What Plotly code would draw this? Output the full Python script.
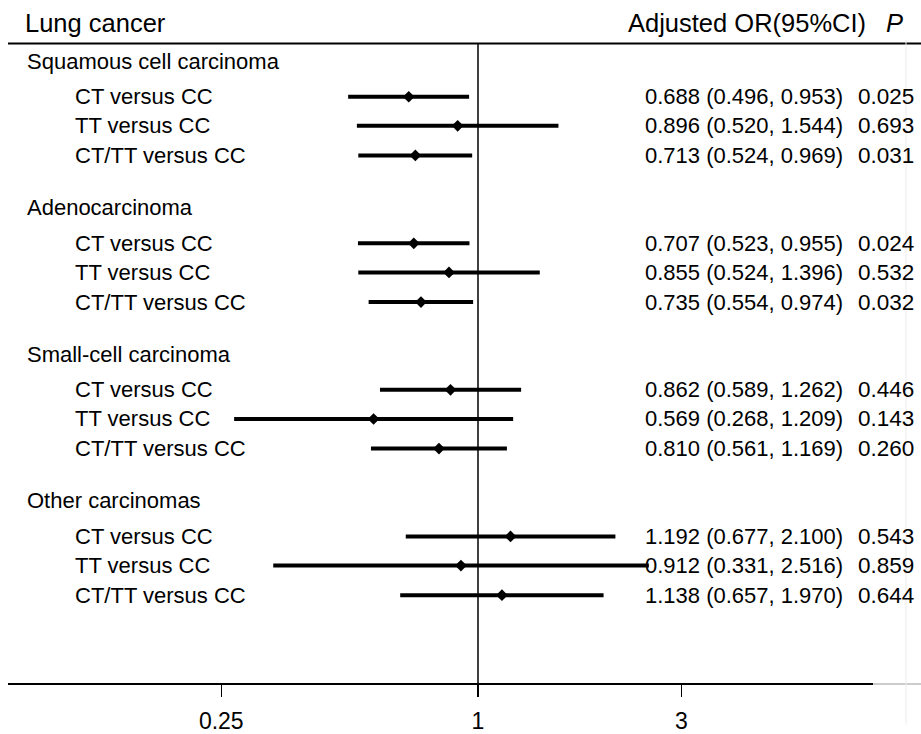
import math
import plotly.graph_objects as go

# ---------------- data ----------------
title_left = "Lung cancer"
title_right = "Adjusted OR(95%CI)"
title_p = "P"
groups = ["Squamous cell carcinoma", "Adenocarcinoma", "Small-cell carcinoma", "Other carcinomas"]
comparisons = ["CT versus CC", "TT versus CC", "CT/TT versus CC"]
or_vals = [0.688, 0.896, 0.713, 0.707, 0.855, 0.735, 0.862, 0.569, 0.810, 1.192, 0.912, 1.138]
ci_low = [0.496, 0.520, 0.524, 0.523, 0.524, 0.554, 0.589, 0.268, 0.561, 0.677, 0.331, 0.657]
ci_high = [0.953, 1.544, 0.969, 0.955, 1.396, 0.974, 1.262, 1.209, 1.169, 2.100, 2.516, 1.970]
p_vals = ["0.025", "0.693", "0.031", "0.024", "0.532", "0.032",
          "0.446", "0.143", "0.260", "0.543", "0.859", "0.644"]
tick_vals = [0.25, 1, 3]
tick_text = ["0.25", "1", "3"]

# ---------------- layout constants (page pixels) ----------------
W, H = 921, 734
AXIS_Y = 693                  # y of the x axis line
BOTTOM = H - AXIS_Y
X_ONE = 478.0                 # x of OR = 1
PX_PER_LN = 185.2             # pixels per natural-log unit
GROUP_START = 62.0
GROUP_PITCH = 148.5
ROW_OFFSETS = [36.0, 65.5, 95.5]
TOP_LINE_Y = 44
PAD = 3                       # annotation inner padding
FONT = "Liberation Sans, Arial, sans-serif"

def px(xp):
    return xp / W

def py(yp):
    return (AXIS_Y - yp) / AXIS_Y

x_range = [math.log10(math.exp(-X_ONE / PX_PER_LN)),
           math.log10(math.exp((W - X_ONE) / PX_PER_LN))]

header_y = [GROUP_START + g * GROUP_PITCH for g in range(len(groups))]
row_y = []
row_lab = []
for g in range(len(groups)):
    for r, c in enumerate(comparisons):
        row_y.append(header_y[g] + ROW_OFFSETS[r])
        row_lab.append(c)

fig = go.Figure()

# CI lines
xs, ys = [], []
for lo, hi, y in zip(ci_low, ci_high, row_y):
    xs += [lo, hi, None]
    ys += [y, y, None]
fig.add_trace(go.Scatter(x=xs, y=ys, mode="lines",
                         line=dict(color="black", width=4),
                         hoverinfo="skip", showlegend=False))
# point estimates
fig.add_trace(go.Scatter(x=or_vals, y=row_y, mode="markers",
                         marker=dict(symbol="diamond", size=9, color="black"),
                         showlegend=False))

ann = []
def text(x, y, s, size, xanchor="left", italic=False):
    if xanchor == "left":
        x -= PAD
    elif xanchor == "right":
        x += PAD
    ann.append(dict(x=px(x), y=y, xref="paper", yref="y", text=s, showarrow=False,
                    xanchor=xanchor, yanchor="middle",
                    font=dict(family=FONT, size=size, color="black",
                              style="italic" if italic else "normal")))

text(26, 23, title_left, 25.5)
text(865, 23, title_right, 25.5, xanchor="right")
text(894, 23, title_p, 25.5, xanchor="center", italic=True)
for g, name in enumerate(groups):
    text(28, header_y[g], name, 22)
for i, y in enumerate(row_y):
    text(76, y, row_lab[i], 22)
    text(646, y, f"{or_vals[i]:.3f} ({ci_low[i]:.3f}, {ci_high[i]:.3f})", 22)
    text(859, y, p_vals[i], 22.5)

shapes = [
    dict(type="line", xref="paper", yref="y", x0=px(8), x1=1, y0=TOP_LINE_Y, y1=TOP_LINE_Y,
         line=dict(color="black", width=2)),
    dict(type="line", xref="x", yref="y", x0=1, x1=1, y0=TOP_LINE_Y, y1=AXIS_Y,
         line=dict(color="black", width=1.5)),
    dict(type="line", xref="paper", yref="paper", x0=px(8), x1=px(873), y0=0, y1=0,
         line=dict(color="black", width=1.8)),
    dict(type="line", xref="paper", yref="paper", x0=px(873), x1=1, y0=0, y1=0,
         line=dict(color="#9a9a9a", width=1.2)),
    dict(type="line", xref="paper", yref="paper", x0=px(906), x1=px(906),
         y0=py(734), y1=py(40), line=dict(color="#ececec", width=1)),
]

fig.update_layout(
    width=W, height=H,
    margin=dict(l=0, r=0, t=0, b=BOTTOM),
    paper_bgcolor="white", plot_bgcolor="white",
    annotations=ann, shapes=shapes,
    hovermode=False,
    xaxis=dict(type="log", range=x_range, tickvals=tick_vals, ticktext=tick_text,
               ticks="outside", ticklen=12, tickwidth=1.5, tickcolor="black",
               ticklabelstandoff=4,
               showgrid=False, zeroline=False, showline=False,
               tickfont=dict(family=FONT, size=23, color="black")),
    yaxis=dict(range=[AXIS_Y, 0], visible=False, showgrid=False, zeroline=False),
    font=dict(family=FONT, color="black"),
)

fig.write_html(
    "out.html",
    config={"displayModeBar": False, "staticPlot": True},
    post_script="document.body.style.margin='0';document.body.style.overflow='hidden';",
)
